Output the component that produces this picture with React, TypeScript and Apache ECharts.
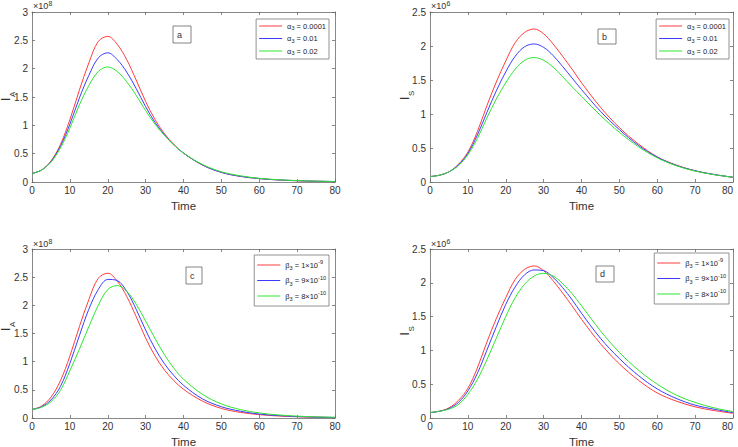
import React, { useEffect, useRef } from 'react';
import * as echarts from 'echarts';

// time grid shared by all curves
const times = [0, 2.5, 5, 7.5, 10, 12.5, 15, 17.5, 20, 22.5, 25, 27.5, 30, 32.5, 35, 37.5, 40, 45, 50, 55, 60, 65, 70, 75, 80];

// I_A (x1e8) for alpha3 variations (panel a); red curve also baseline of panel c
const iaAlpha0001 = [0.15, 0.21, 0.37, 0.66, 1.1, 1.62, 2.1, 2.48, 2.57, 2.43, 2.16, 1.8, 1.42, 1.1, 0.85, 0.66, 0.51, 0.3, 0.17, 0.1, 0.06, 0.036, 0.022, 0.013, 0.008];
const iaAlpha001 = [0.15, 0.21, 0.36, 0.63, 1.02, 1.48, 1.88, 2.19, 2.28, 2.16, 1.94, 1.65, 1.33, 1.05, 0.83, 0.65, 0.51, 0.3, 0.17, 0.1, 0.06, 0.037, 0.023, 0.014, 0.008];
const iaAlpha002 = [0.15, 0.21, 0.35, 0.6, 0.95, 1.36, 1.7, 1.95, 2.03, 1.95, 1.77, 1.53, 1.26, 1.02, 0.82, 0.65, 0.51, 0.31, 0.18, 0.11, 0.065, 0.04, 0.025, 0.015, 0.009];

// I_S (x1e6) for alpha3 variations (panel b); red curve also baseline of panel d
const isAlpha0001 = [0.08, 0.1, 0.15, 0.26, 0.44, 0.74, 1.12, 1.47, 1.78, 2.05, 2.2, 2.25, 2.18, 2.03, 1.85, 1.66, 1.46, 1.1, 0.8, 0.56, 0.37, 0.25, 0.165, 0.11, 0.07];
const isAlpha001 = [0.08, 0.1, 0.15, 0.25, 0.42, 0.69, 1.02, 1.34, 1.62, 1.85, 1.99, 2.03, 1.98, 1.86, 1.7, 1.53, 1.36, 1.04, 0.77, 0.54, 0.365, 0.245, 0.165, 0.11, 0.07];
const isAlpha002 = [0.08, 0.1, 0.15, 0.24, 0.4, 0.64, 0.94, 1.22, 1.46, 1.66, 1.79, 1.83, 1.79, 1.69, 1.55, 1.4, 1.26, 0.98, 0.73, 0.52, 0.355, 0.24, 0.16, 0.108, 0.07];

// I_A (x1e8) for beta3 variations (panel c)
const iaBeta9e10 = [0.15, 0.2, 0.32, 0.56, 0.97, 1.46, 1.93, 2.28, 2.46, 2.44, 2.25, 1.93, 1.56, 1.23, 0.96, 0.75, 0.58, 0.34, 0.2, 0.12, 0.07, 0.043, 0.026, 0.016, 0.01];
const iaBeta8e10 = [0.15, 0.19, 0.29, 0.49, 0.84, 1.22, 1.62, 2.0, 2.28, 2.35, 2.25, 2.02, 1.72, 1.41, 1.12, 0.88, 0.69, 0.42, 0.25, 0.15, 0.09, 0.055, 0.033, 0.02, 0.012];

// I_S (x1e6) for beta3 variations (panel d)
const isBeta9e10 = [0.08, 0.1, 0.14, 0.23, 0.4, 0.66, 1.0, 1.35, 1.68, 1.94, 2.12, 2.19, 2.18, 2.08, 1.93, 1.75, 1.55, 1.18, 0.88, 0.63, 0.43, 0.29, 0.19, 0.13, 0.08];
const isBeta8e10 = [0.08, 0.1, 0.13, 0.2, 0.35, 0.57, 0.86, 1.18, 1.5, 1.78, 1.98, 2.1, 2.14, 2.1, 1.99, 1.84, 1.66, 1.29, 0.97, 0.71, 0.5, 0.34, 0.23, 0.15, 0.095];

const alphaValues = ['0.0001', '0.01', '0.02'];
const betaMantissa = ['1', '9', '8'];
const betaExponent = ['-9', '-10', '-10'];
const alphaNames = alphaValues.map((v) => 'α3 = ' + v);
const betaNames = betaMantissa.map((m, i) => 'β3 = ' + m + '×10' + betaExponent[i]);

const panelTags = ['a', 'b', 'c', 'd'];
const yMaxes = [3, 2.5, 3, 2.5];
const yExponents = ['8', '6', '8', '6'];
const ySubs = ['A', 'S', 'A', 'S'];

const FONT = '"Liberation Sans", Arial, sans-serif';
const COLORS = ['#ff3c3c', '#3c3cff', '#2ee62e'];
const AXIS = '#6a6a6a';
const TXT = '#333';

export default function App() {
  const ref = useRef<HTMLDivElement>(null);
  useEffect(() => {
    if (!ref.current) return;
    const chart = echarts.init(ref.current, undefined, { renderer: 'svg' });

    const grids = [
      { left: 32, top: 12, width: 303, height: 170 },
      { left: 430, top: 12, width: 303, height: 170 },
      { left: 32, top: 249, width: 303, height: 169 },
      { left: 430, top: 249, width: 303, height: 169 },
    ];
    const nameGaps = [18, 18, 18, 18];
    const panelData = [
      [iaAlpha0001, iaAlpha001, iaAlpha002],
      [isAlpha0001, isAlpha001, isAlpha002],
      [iaAlpha0001, iaBeta9e10, iaBeta8e10],
      [isAlpha0001, isBeta9e10, isBeta8e10],
    ];
    const panelNames = [alphaNames, alphaNames, betaNames, betaNames];

    const xAxis: any[] = [];
    const yAxis: any[] = [];
    const series: any[] = [];
    grids.forEach((g, i) => {
      const line = { show: true, onZero: false, lineStyle: { color: AXIS, width: 0.8 } };
      const tick = { show: true, inside: true, length: 3, lineStyle: { color: AXIS, width: 0.8 } };
      xAxis.push({
        type: 'value', gridIndex: i, min: 0, max: 80, interval: 10, position: 'bottom',
        axisLine: line, axisTick: tick, splitLine: { show: false },
        axisLabel: { color: TXT, fontSize: 10, fontFamily: FONT, margin: 3, alignMaxLabel: i % 2 === 1 ? 'right' : undefined },
        name: 'Time', nameLocation: 'middle', nameGap: nameGaps[i],
        nameTextStyle: { color: TXT, fontSize: 11.5, fontFamily: FONT },
      });
      xAxis.push({
        type: 'value', gridIndex: i, min: 0, max: 80, interval: 10, position: 'top',
        axisLine: line, axisTick: tick, splitLine: { show: false }, axisLabel: { show: false },
      });
      yAxis.push({
        type: 'value', gridIndex: i, min: 0, max: yMaxes[i], interval: 0.5, position: 'left',
        axisLine: line, axisTick: tick, splitLine: { show: false },
        axisLabel: { color: TXT, fontSize: 10, fontFamily: FONT, margin: 4 },
      });
      yAxis.push({
        type: 'value', gridIndex: i, min: 0, max: yMaxes[i], interval: 0.5, position: 'right',
        axisLine: line, axisTick: tick, splitLine: { show: false }, axisLabel: { show: false },
      });
      panelData[i].forEach((vals, k) => {
        series.push({
          type: 'line', name: panelNames[i][k], xAxisIndex: 2 * i, yAxisIndex: 2 * i,
          data: times.map((t, j) => [t, vals[j]]),
          symbol: 'none', smooth: 0.35,
          lineStyle: { width: 1, color: COLORS[k] }, itemStyle: { color: COLORS[k] },
        });
      });
    });

    const mkRich = (lh: number) => ({
      g: { fontSize: 7.5, fontFamily: FONT, color: '#222', lineHeight: lh },
      sub: { fontSize: 5.5, fontFamily: FONT, color: '#222', lineHeight: 5.5, verticalAlign: 'bottom' },
      sup: { fontSize: 5.5, fontFamily: FONT, color: '#222', lineHeight: 5.5, verticalAlign: 'top' },
    });
    const alphaFmt = (name: string) => {
      const k = alphaNames.indexOf(name);
      return '{g|α}{sub|3}{g| = ' + alphaValues[k] + '}';
    };
    const betaFmt = (name: string) => {
      const k = betaNames.indexOf(name);
      return '{g|β}{sub|3}{g| = ' + betaMantissa[k] + '×10}{sup|' + betaExponent[k] + '}';
    };
    const legendBase = {
      orient: 'vertical', itemWidth: 23, itemHeight: 1, icon: 'rect',
      borderColor: '#777', borderWidth: 0.8, backgroundColor: '#fff', borderRadius: 0,
      selectedMode: false,
    };
    const legend = [
      { ...legendBase, right: 409, top: 19, itemGap: 3.5, padding: [3, 3, 3, 3], data: alphaNames, formatter: alphaFmt, textStyle: { rich: mkRich(10) } },
      { ...legendBase, right: 9, top: 19, itemGap: 3.5, padding: [3, 3, 3, 3], data: alphaNames, formatter: alphaFmt, textStyle: { rich: mkRich(10) } },
      { ...legendBase, right: 409, top: 255, itemGap: 3.5, padding: [4, 3, 4, 3], data: betaNames, formatter: betaFmt, textStyle: { rich: mkRich(12) } },
      { ...legendBase, right: 9, top: 253, itemGap: 3.5, padding: [4, 3, 4, 3], data: betaNames, formatter: betaFmt, textStyle: { rich: mkRich(12) } },
    ];

    const txt = (text: string, x: number, y: number, size: number, extra: any = {}) => ({
      type: 'text', x, y,
      style: { text, fontSize: size, fontFamily: FONT, fill: TXT, align: 'left', verticalAlign: 'middle', ...extra },
    });

    const expPos = [[33, 6], [431, 6], [33, 244], [431, 244]];
    const yLabelPos = [[6, 101], [405, 100], [6, 331], [405, 335.5]];
    const tagBoxes = [[173, 26, 18, 17], [598, 29, 18, 15], [186, 267, 16, 17], [596, 266, 18, 16]];

    const graphic: any[] = [];
    for (let i = 0; i < 4; i++) {
      const [ex, ey] = expPos[i];
      graphic.push(txt('×10', ex, ey, 9));
      graphic.push(txt(yExponents[i], ex + 15.5, ey - 3, 7));
      const [lx, ly] = yLabelPos[i];
      graphic.push({
        type: 'group', x: lx, y: ly, rotation: Math.PI / 2,
        children: [txt('I', 0, 0, 12), txt(ySubs[i], 4, 6, 8)],
      });
      const [bx, by, bw, bh] = tagBoxes[i];
      graphic.push({
        type: 'rect', shape: { x: bx, y: by, width: bw, height: bh },
        style: { fill: '#fff', stroke: '#666', lineWidth: 0.8 }, z: 10,
      });
      graphic.push({ ...txt(panelTags[i], bx + 4, by + bh / 2, 9), z: 11 });
    }

    chart.setOption({
      animation: false,
      backgroundColor: '#fff',
      grid: grids.map((g) => ({ ...g, containLabel: false, outerBoundsMode: 'none' })),
      xAxis, yAxis, series, legend, graphic,
    });
    return () => chart.dispose();
  }, []);
  return (
    <div
      ref={ref}
      style={{ position: 'absolute', left: 0, top: 0, width: 738, height: 447, background: '#fff' }}
    />
  );
}
